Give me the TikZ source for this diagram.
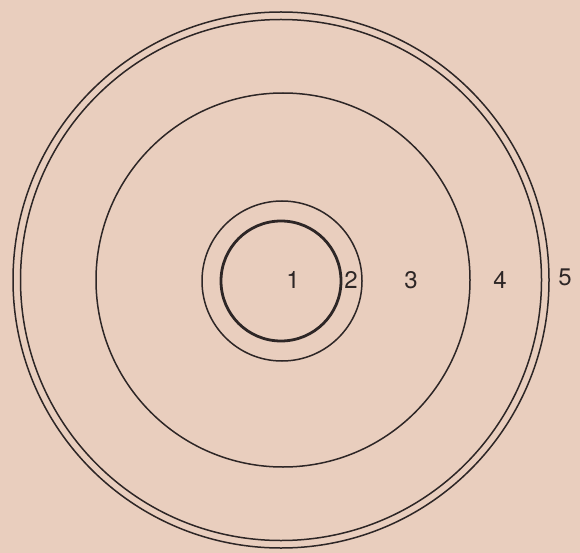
\documentclass[tikz,border=0pt]{standalone}
\usepackage{fontspec}
\setmainfont{TeX Gyre Heros}
\definecolor{paper}{RGB}{233,206,190}
\definecolor{ink}{RGB}{45,38,38}
\begin{document}
\begin{tikzpicture}[x=1pt,y=-1pt,
  ring/.style={circle,draw=ink,line width=1.5pt,inner sep=0pt},
  core/.style={circle,draw=ink,line width=2.8pt,inner sep=0pt},
  lbl/.style={text=ink,font=\fontsize{24}{24}\selectfont,inner sep=0pt}]
\fill[paper] (0,0) rectangle (580,553);
\useasboundingbox (0,0) rectangle (580,553);
\node[ring,minimum size=536pt] (c5o) at (281,280) {};
\node[ring,minimum size=521pt] (c5i) at (281,280) {};
\node[ring,minimum size=374pt] (c4) at (283,280) {};
\node[ring,minimum size=160pt] (c2) at (282,281) {};
\node[core,minimum size=120pt] (c1) at (281,281) {};
\node[lbl] (l1) at (293,280) {1};
\node[lbl] (l2) at (351,280) {2};
\node[lbl] (l3) at (411,280) {3};
\node[lbl] (l4) at (500,280) {4};
\node[lbl] (l5) at (565,277) {5};
\end{tikzpicture}
\end{document}
